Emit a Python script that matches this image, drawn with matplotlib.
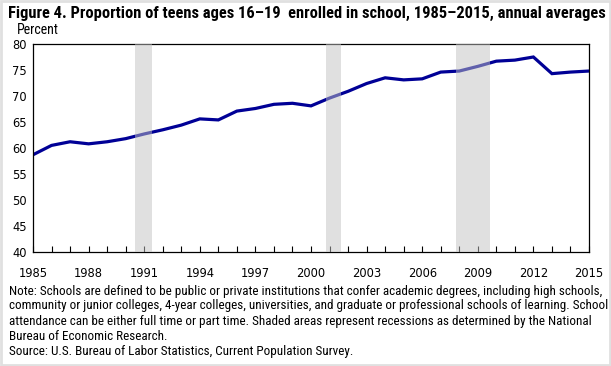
import numpy as np
import matplotlib; matplotlib.use("Agg")
import matplotlib.pyplot as plt
from matplotlib.patches import Rectangle

years = list(range(1985, 2016))
enrolled = [58.7, 60.5, 61.2, 60.8, 61.2, 61.8, 62.7, 63.5, 64.4, 65.6,
            65.4, 67.1, 67.6, 68.4, 68.6, 68.1, 69.6, 70.9, 72.4, 73.5,
            73.1, 73.3, 74.6, 74.8, 75.7, 76.7, 76.9, 77.5, 74.3, 74.6, 74.8]
recessions = [(1990.5, 1991.4), (2000.8, 2001.6), (2007.8, 2009.65)]
xtick_years = list(range(1985, 2016, 3))
yticks = list(range(40, 81, 5))

TITLE = "Figure 4. Proportion of teens ages 16\u201319  enrolled in school, 1985\u20132015, annual averages"
NOTE = ["Note: Schools are defined to be public or private institutions that confer academic degrees, including high schools,",
        "community or junior colleges, 4-year colleges, universities, and graduate or professional schools of learning. School",
        "attendance can be either full time or part time. Shaded areas represent recessions as determined by the National",
        "Bureau of Economic Research.",
        "Source: U.S. Bureau of Labor Statistics, Current Population Survey."]

COND = ['Roboto Condensed', 'DejaVu Sans']

W, H = 611, 366
fig = plt.figure(figsize=(W / 100, H / 100), dpi=100)
ax = fig.add_axes([33 / W, 1 - 252 / H, (589 - 33) / W, (252 - 44) / H])

ax.plot(years, enrolled, color="#000096", lw=2.3, solid_joinstyle="miter", zorder=2)
for a, b in recessions:
    ax.axvspan(a, b, color="#c2c2c2", alpha=0.5, lw=0, zorder=3)

ax.set_xlim(1985, 2015)
ax.set_ylim(40, 80)
ax.set_xticks(years)
ax.set_xticklabels([str(y) if y in xtick_years else "" for y in years])
ax.set_yticks(yticks)
ax.tick_params(axis="x", direction="in", length=4, width=0.8, pad=10.5, labelsize=8.3)
ax.tick_params(axis="y", length=0, pad=4.5, labelsize=8.3)
for s in ax.spines.values():
    s.set_linewidth(0.9)


def fit(t, width_px):
    # shrink/grow a text so it spans the given pixel width
    r = fig.canvas.get_renderer()
    w = t.get_window_extent(r).width
    t.set_fontsize(t.get_fontsize() * width_px / w)


title = fig.text(8 / W, 1 - 13 / H, TITLE, fontsize=12, fontweight="bold", va="center", ha="left", family=COND)
fit(title, 597)
fig.text(17 / W, 1 - 30 / H, "Percent", fontsize=10, va="center", ha="left", family=COND)

note_lines = []
for i, line in enumerate(NOTE):
    t = fig.text(9 / W, 1 - (291 + 15 * i) / H, line, fontsize=10, va="center", ha="left", family=COND)
    note_lines.append(t)
fit(note_lines[0], 588)
for t in note_lines[1:]:
    t.set_fontsize(note_lines[0].get_fontsize())

fig.patches.append(Rectangle((1 / W, 1 / H), 1 - 2 / W, 1 - 2 / H, transform=fig.transFigure,
                             fill=False, edgecolor="#e0e0e0", lw=2))
fig.savefig("out.png", dpi=100)
